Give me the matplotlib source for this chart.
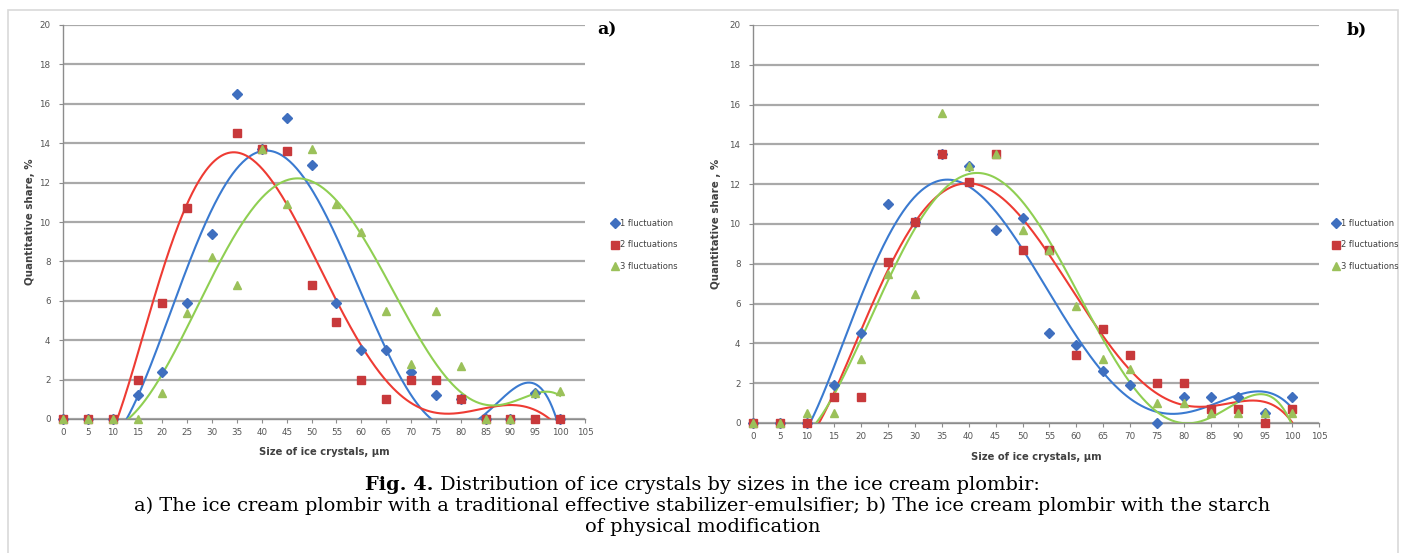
import numpy as np
import matplotlib
matplotlib.use("Agg")
import matplotlib.pyplot as plt
from matplotlib.patches import Rectangle

# ---------------- data ----------------
sizes = [0, 5, 10, 15, 20, 25, 30, 35, 40, 45, 50, 55, 60, 65, 70, 75, 80, 85, 90, 95, 100]
series_names = ["1 fluctuation", "2 fluctuations", "3 fluctuations"]

# panel a) traditional stabilizer-emulsifier
# (some points sit under other markers; their values are estimated from the overlap)
a_fluct1 = [0, 0, 0, 1.2, 2.4, 5.9, 9.4, 16.5, 13.7, 15.3, 12.9, 5.9, 3.5, 3.5, 2.4, 1.2, 1.0, 0, 0, 1.3, 0]
a_fluct2 = [0, 0, 0, 2.0, 5.9, 10.7, None, 14.5, 13.7, 13.6, 6.8, 4.9, 2.0, 1.0, 2.0, 2.0, 1.0, 0, 0, 0, 0]
a_fluct3 = [0, 0, 0, 0, 1.3, 5.4, 8.2, 6.8, 13.7, 10.9, 13.7, 10.9, 9.5, 5.5, 2.8, 5.5, 2.7, 0, 0, 1.3, 1.4]

# panel b) starch of physical modification
b_fluct1 = [0, 0, 0, 1.9, 4.5, 11.0, 10.1, 13.5, 12.9, 9.7, 10.3, 4.5, 3.9, 2.6, 1.9, 0, 1.3, 1.3, 1.3, 0.5, 1.3]
b_fluct2 = [0, 0, 0, 1.3, 1.3, 8.1, 10.1, 13.5, 12.1, 13.5, 8.7, 8.7, 3.4, 4.7, 3.4, 2.0, 2.0, 0.7, 0.7, 0, 0.7]
b_fluct3 = [0, 0, 0.5, 0.5, 3.2, 7.5, 6.5, 15.6, 12.9, 13.5, 9.7, 8.7, 5.9, 3.2, 2.7, 1.0, 1.0, 0.5, 0.5, 0.5, 0.5]

trend_order = 6       # polynomial trendlines
trend_draw_from = 10  # part of the trendline shown

y_ticks = list(range(0, 21, 2))
x_ticks = list(range(0, 106, 5))

panel_tags = ["a)", "b)"]
y_labels = ["Quantitative share, %", "Quantitative share , %"]
x_label = "Size of ice crystals, \u03bcm"
caption_bold = "Fig. 4."
caption_rest = " Distribution of ice crystals by sizes in the ice cream plombir:"
caption_line2 = "a) The ice cream plombir with a traditional effective stabilizer-emulsifier; b) The ice cream plombir with the starch"
caption_line3 = "of physical modification"

# ---------------- style ----------------
marker_colors = ["#3f6fbf", "#c8393b", "#9bc15a"]
line_colors = ["#3a7ad0", "#ee3b33", "#8fcf52"]
markers = ["D", "s", "^"]
msizes = [4.8, 6.0, 6.0]
cap_font = "DejaVu Serif"

fig = plt.figure(figsize=(14.05, 5.53), dpi=100)
fig.patch.set_facecolor("white")
renderer = fig.canvas.get_renderer()

# frame around figure
fig.add_artist(Rectangle((8 / 1405, -0.05), (1398 - 8) / 1405, 1 - 10 / 553 + 0.05,
                         transform=fig.transFigure, fill=False, edgecolor="#d9d9d9", lw=1.2))

axes_pos = [
    [63 / 1405, 1 - 419 / 553, (585 - 63) / 1405, (419 - 25) / 553],
    [753 / 1405, 1 - 423 / 553, (1319 - 753) / 1405, (423 - 25) / 553],
]
panels = [[a_fluct1, a_fluct2, a_fluct3], [b_fluct1, b_fluct2, b_fluct3]]
legend_x = [609 / 1405, 1330 / 1405]
tag_x = [597 / 1405, 1347 / 1405]
ylabel_x = [30 / 1405, 716 / 1405]
xlabel_y = [452 / 553, 457 / 553]

xs_dense = np.linspace(trend_draw_from, 100, 400)

for p in range(2):
    ax = fig.add_axes(axes_pos[p])
    ax.set_xlim(0, 105)
    ax.set_ylim(0, 20)
    ax.set_yticks(y_ticks)
    ax.set_xticks(x_ticks)
    ax.grid(axis="y", color="#a9a9a9", lw=1.6, zorder=0)
    ax.set_axisbelow(True)
    for s in ["top", "right"]:
        ax.spines[s].set_visible(False)
    for s in ["left", "bottom"]:
        ax.spines[s].set_color("#8c8c8c")
        ax.spines[s].set_linewidth(1.0)
    ax.tick_params(axis="both", colors="#8c8c8c", labelcolor="#555555",
                   labelsize=6.3, length=3, width=0.8, direction="out")
    ax.tick_params(axis="y", pad=6)

    handles = []
    for i, vals in enumerate(panels[p]):
        pts = [(x, v) for x, v in zip(sizes, vals) if v is not None]
        xv = np.array([q[0] for q in pts], float)
        yv = np.array([q[1] for q in pts], float)
        coef = np.polyfit(xv, yv, trend_order)
        ax.plot(xs_dense, np.polyval(coef, xs_dense), color=line_colors[i], lw=1.5, zorder=2)
    for i, vals in enumerate(panels[p]):
        xv = [x for x, v in zip(sizes, vals) if v is not None]
        yv = [v for v in vals if v is not None]
        h, = ax.plot(xv, yv, ls="none", marker=markers[i], ms=msizes[i],
                     color=marker_colors[i], mec=marker_colors[i], clip_on=False, zorder=3 + i,
                     label=series_names[i])
        handles.append(h)

    fig.text(ylabel_x[p], (axes_pos[p][1] + axes_pos[p][3] / 2), y_labels[p], rotation=90,
             ha="center", va="center", fontsize=7.4, fontweight="bold", color="#404040")
    fig.text((axes_pos[p][0] + axes_pos[p][2] / 2), 1 - xlabel_y[p], x_label,
             ha="center", va="center", fontsize=7.2, fontweight="bold", color="#404040")
    fig.text(tag_x[p], 1 - 30 / 553, panel_tags[p], ha="left", va="center",
             fontsize=12.5, fontweight="bold", family="DejaVu Serif")
    fig.legend(handles=handles, loc="center left", bbox_to_anchor=(legend_x[p], 1 - 245 / 553),
               frameon=False, fontsize=6, handlelength=0.6, handletextpad=0.35,
               labelspacing=1.5, borderaxespad=0, labelcolor="#404040")

# caption: size chosen so line 2 spans ~1140 px as in the reference
probe = fig.text(0, 0, caption_line2, fontsize=10, family=cap_font)
w10 = probe.get_window_extent(renderer).width
probe.remove()
cap_size = 10 * 1140 / w10

tb = fig.text(0, 0, caption_bold, fontsize=cap_size, fontweight="bold", family=cap_font, va="center")
tr = fig.text(0, 0, caption_rest, fontsize=cap_size, family=cap_font, va="center")
wb = tb.get_window_extent(renderer).width
wr = tr.get_window_extent(renderer).width
start = (1405 - (wb + wr)) / 2
tb.set_position((start / 1405, 1 - 485 / 553))
tr.set_position(((start + wb) / 1405, 1 - 485 / 553))
fig.text(0.5, 1 - 506 / 553, caption_line2, ha="center", va="center",
         fontsize=cap_size, family=cap_font)
fig.text(0.5, 1 - 527 / 553, caption_line3, ha="center", va="center",
         fontsize=cap_size, family=cap_font)

fig.savefig("out.png", dpi=100, facecolor="white")
